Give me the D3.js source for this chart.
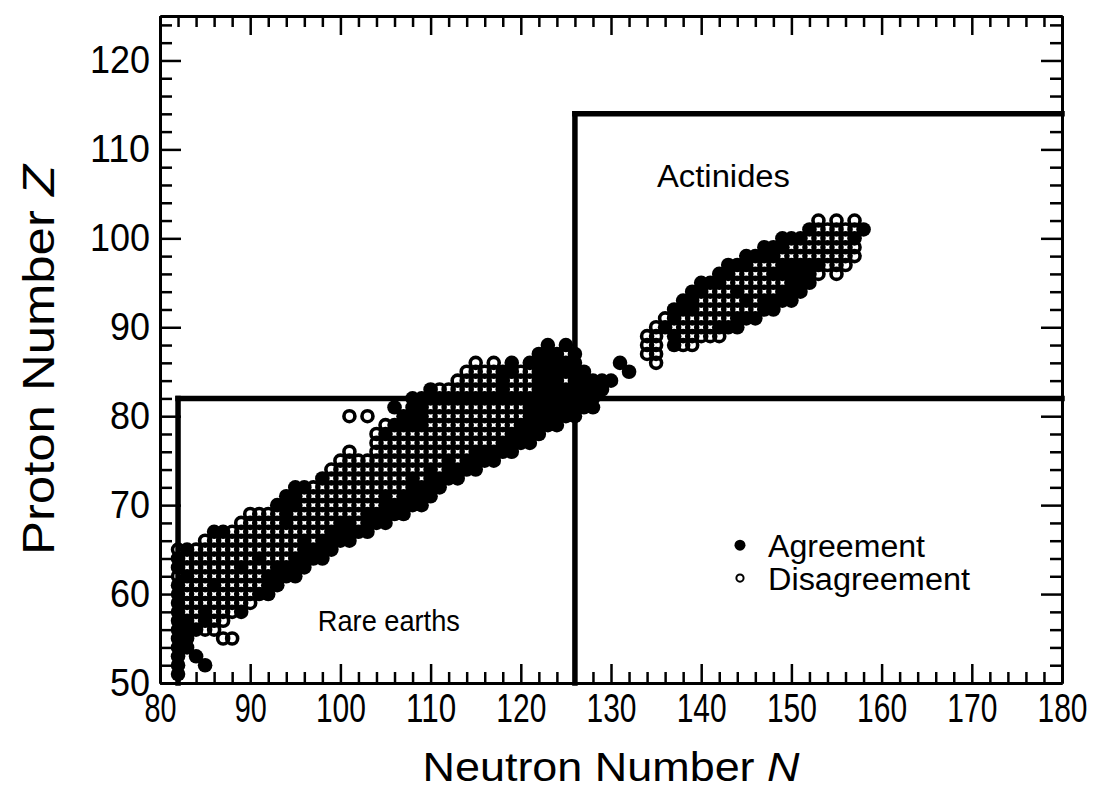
<!DOCTYPE html>
<html>
<head>
<meta charset="utf-8">
<script src="https://cdn.jsdelivr.net/npm/d3@7"></script>
<style>
  body { margin: 0; background: #fff; }
  text { font-family: "Liberation Sans", Arial, Helvetica, sans-serif; fill: #000; }
</style>
</head>
<body>
<svg id="chart" width="1105" height="792"></svg>
<script>
// tick values
const xMajor = [80, 90, 100, 110, 120, 130, 140, 150, 160, 170, 180];
const yMajor = [50, 60, 70, 80, 90, 100, 110, 120];

// nuclide rows: proton number, first neutron number, marks (x = agreement, o = disagreement, . = none)
const rowZ = [51, 52, 53, 54, 55, 56, 57, 58, 59, 60, 61, 62, 63, 64, 65, 66, 67, 68, 69, 70,
  71, 72, 73, 74, 75, 76, 77, 78, 79, 80, 81, 82, 83, 84, 85, 86, 87, 88,
  86, 87, 88, 89, 90, 91, 92, 93, 94, 95, 96, 97, 98, 99, 100, 101, 102];
const rowStartN = [82, 82, 82, 82, 82, 82, 82, 82, 82, 82, 82, 82, 82, 82, 82, 85, 86, 89, 90, 93,
  94, 95, 98, 99, 100, 101, 104, 104, 105, 101, 106, 108, 110, 113, 114, 115, 122, 123,
  135, 134, 134, 134, 135, 136, 137, 138, 139, 140, 142, 143, 145, 147, 149, 152, 153];
const rowMarks = [
  "x", "x..x", "x.x", "xx", "xx...oo", "xxxoo", "xxoxoo", "xooxooox", "xoooooooo", "xooooooooxx",
  "xoooxoooooxx", "oxooooooooxxxx", "xooooooxoooxxxx", "xooooooooxoooxxxx", "oxooooooooooooxxxx",
  "oooooooooooxoxxxx", "xxoooooooooooxxxxx", "oooooxoooooxxoxxx", "ooooxooooooooxxxxx", "xxxoooooooooxxxxx",
  "xxoooooooooxoxxxx", "xxoooooooooooxxxx", "xoooooooooxoxxxx", "oooooooooooxoxxxx", "ooooooooooooxoxxxx",
  "o..oooooooooooxxxxx", "ooooooooooooooxxxx", "oxoooooooooooooxxxx", "oxxxxooooooooooxxxxx",
  "o.o...xxxoooooooooooxxxxxx", "x.xxoooooooooooxxxxxxxx", "xxoooooooooooxoxxxxxx",
  "xoooooooxoooxxxxxxxx", "oooooxoooxxxoxxxxx", "ooooxxooxxxxxx....x", "o.o.x.xxxxxx....x",
  "xxxox", "x.x",
  "o", "oo", "oo.xoo", "oo.xooooo", "oxoooooxxx", "oxooooooxxx", "xxxoooooooxx", "xxoooooxoxxxx",
  "xxoooxooooxxx", "xxxoooooooxxx", "xxooooxxxxxo.o", "xxxoooxxxxxooo", "xxxxooooooooo",
  "xxxoooooooo", "xxxooooox", "xooooox", "o.o.o"];

// magic-number boundaries: [N1, Z1, N2, Z2]
const shellLines = [[82, 50, 82, 82], [82, 82, 180, 82], [126, 50, 126, 114], [126, 114, 180, 114]];

const regionLabels = ["Actinides", "Rare earths"];
const legendLabels = ["Agreement", "Disagreement"];

const svg = d3.select("#chart");
const X = d3.scaleLinear().domain([80, 180]).range([160, 1062]);
const Y = d3.scaleLinear().domain([50, 125]).range([683, 16]);

// build points from rows
const points = [];
rowZ.forEach((z, i) => {
  rowMarks[i].split("").forEach((c, j) => {
    if (c !== ".") points.push({ n: rowStartN[i] + j, z: z, agree: c === "x" });
  });
});

// shell lines
svg.append("g").selectAll("line").data(shellLines).join("line")
  .attr("x1", d => X(d[0])).attr("y1", d => Y(d[1]))
  .attr("x2", d => X(d[2])).attr("y2", d => Y(d[3]))
  .attr("stroke", "#000").attr("stroke-width", 5.5).attr("stroke-linecap", "square");

// nuclides
const dots = svg.append("g");
dots.selectAll("circle.agree").data(points.filter(d => d.agree)).join("circle")
  .attr("class", "agree")
  .attr("cx", d => X(d.n)).attr("cy", d => Y(d.z)).attr("r", 7.3)
  .attr("fill", "#000");
dots.selectAll("circle.dis").data(points.filter(d => !d.agree)).join("circle")
  .attr("class", "dis")
  .attr("cx", d => X(d.n)).attr("cy", d => Y(d.z)).attr("r", 5.5)
  .attr("fill", "none").attr("stroke", "#000").attr("stroke-width", 3.6);

// axes with inward ticks on all four sides
const xMinor = d3.range(80, 181, 2).filter(v => v % 10 !== 0);
const yMinor = d3.range(50, 126, 2).filter(v => v % 10 !== 0);

function styleAxis(g) {
  g.select(".domain").attr("stroke-width", 3);
  g.selectAll(".tick line").attr("stroke-width", 2.5);
}

const axBottom = svg.append("g").attr("transform", "translate(0,683)");
axBottom.call(d3.axisBottom(X).tickValues(xMinor).tickSizeInner(-11).tickSizeOuter(0).tickFormat(""));
axBottom.append("g").call(d3.axisBottom(X).tickValues(xMajor).tickSizeInner(-19).tickSizeOuter(0).tickPadding(11));
axBottom.call(styleAxis); axBottom.selectAll("g").call(styleAxis);
axBottom.selectAll("text").style("font-size", "40px")
  .attr("textLength", d => String(d).length === 3 ? 50 : 32).attr("lengthAdjust", "spacingAndGlyphs");

const axTop = svg.append("g").attr("transform", "translate(0,16)");
axTop.call(d3.axisTop(X).tickValues(xMinor).tickSizeInner(-11).tickSizeOuter(0).tickFormat(""));
axTop.append("g").call(d3.axisTop(X).tickValues(xMajor).tickSizeInner(-19).tickSizeOuter(0).tickFormat(""));
axTop.call(styleAxis); axTop.selectAll("g").call(styleAxis);

const axLeft = svg.append("g").attr("transform", "translate(160,0)");
axLeft.call(d3.axisLeft(Y).tickValues(yMinor).tickSizeInner(-12).tickSizeOuter(0).tickFormat(""));
axLeft.append("g").call(d3.axisLeft(Y).tickValues(yMajor).tickSizeInner(-21).tickSizeOuter(0).tickPadding(10));
axLeft.call(styleAxis); axLeft.selectAll("g").call(styleAxis);
axLeft.selectAll("text").style("font-size", "38px")
  .attr("textLength", d => String(d).length === 3 ? 60 : 40).attr("lengthAdjust", "spacingAndGlyphs");

const axRight = svg.append("g").attr("transform", "translate(1062,0)");
axRight.call(d3.axisRight(Y).tickValues(yMinor).tickSizeInner(-12).tickSizeOuter(0).tickFormat(""));
axRight.append("g").call(d3.axisRight(Y).tickValues(yMajor).tickSizeInner(-21).tickSizeOuter(0).tickFormat(""));
axRight.call(styleAxis); axRight.selectAll("g").call(styleAxis);

// axis titles
const xt = svg.append("text").attr("x", 611).attr("y", 781).attr("text-anchor", "middle")
  .style("font-size", "40px").attr("textLength", 377).attr("lengthAdjust", "spacingAndGlyphs");
xt.append("tspan").text("Neutron Number ");
xt.append("tspan").style("font-style", "italic").text("N");

const yt = svg.append("text").attr("transform", "translate(54,360) rotate(-90)").attr("text-anchor", "middle")
  .style("font-size", "44px").attr("textLength", 390).attr("lengthAdjust", "spacingAndGlyphs");
yt.append("tspan").text("Proton Number ");
yt.append("tspan").style("font-style", "italic").text("Z");

// region labels
svg.append("text").attr("x", X(135.1)).attr("y", Y(105.8)).style("font-size", "31px")
  .attr("textLength", 133).attr("lengthAdjust", "spacingAndGlyphs").text(regionLabels[0]);
svg.append("text").attr("x", X(97.5)).attr("y", Y(55.8)).style("font-size", "30px")
  .attr("textLength", 142).attr("lengthAdjust", "spacingAndGlyphs").text(regionLabels[1]);

// legend
svg.append("circle").attr("cx", X(144.3)).attr("cy", Y(65.5)).attr("r", 5.5).attr("fill", "#000");
svg.append("circle").attr("cx", X(144.3)).attr("cy", Y(61.8)).attr("r", 3.6)
  .attr("fill", "none").attr("stroke", "#000").attr("stroke-width", 2);
svg.append("text").attr("x", 768).attr("y", 557).style("font-size", "31px")
  .attr("textLength", 157).attr("lengthAdjust", "spacingAndGlyphs").text(legendLabels[0]);
svg.append("text").attr("x", 768).attr("y", 590).style("font-size", "31px")
  .attr("textLength", 202).attr("lengthAdjust", "spacingAndGlyphs").text(legendLabels[1]);
</script>
</body>
</html>
